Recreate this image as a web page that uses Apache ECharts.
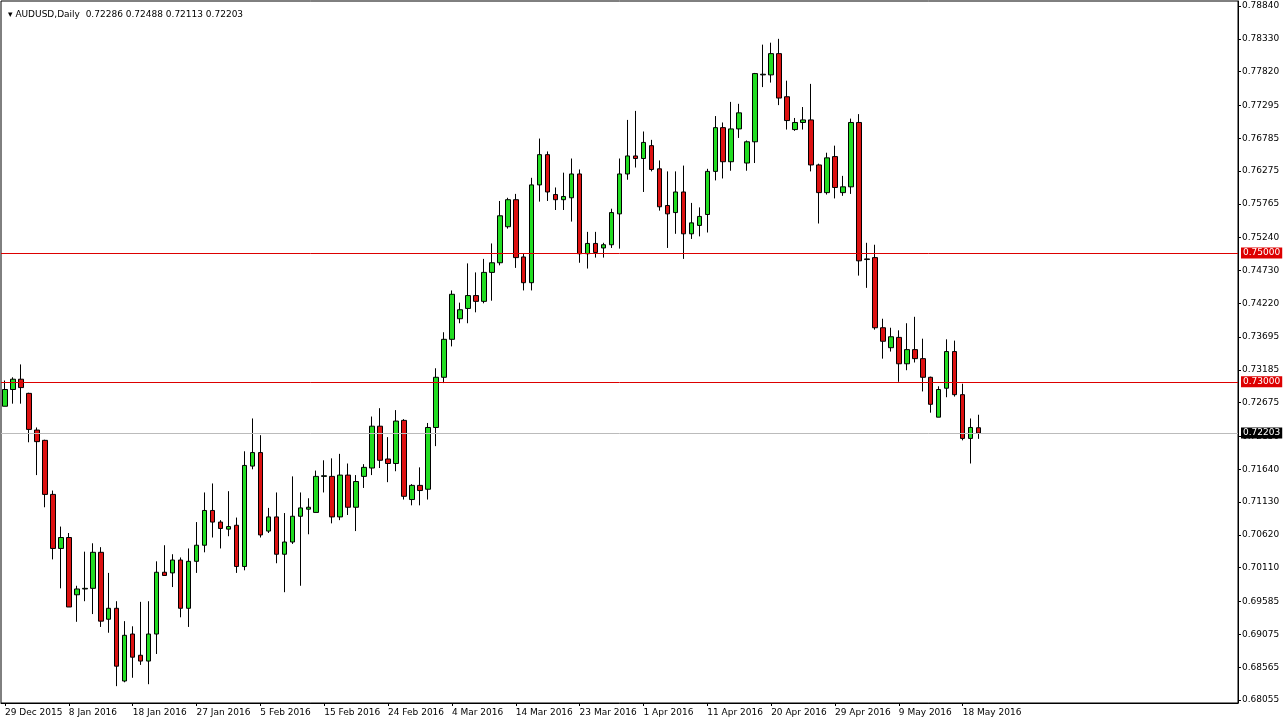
<!DOCTYPE html>
<html><head><meta charset="utf-8">
<script src="https://cdn.jsdelivr.net/npm/echarts@6/dist/echarts.min.js"></script>
<style>html,body{margin:0;padding:0;background:#fff}#c{width:1284px;height:725px}</style>
</head><body><div id="c"></div>
<script>
// [open, close, low, high]
const ohlc = [
[.7262,.7288,.7262,.7302],[.7288,.7304,.7266,.7307],[.7304,.7291,.7266,.7327],[.7282,.7226,.7206,.7283],
[.7225,.7207,.7155,.7229],[.7209,.7125,.7105,.7210],[.7125,.7041,.7024,.7131],[.7041,.7058,.6979,.7075],
[.7058,.6950,.6950,.7065],[.6969,.6978,.6927,.6983],[.6978,.6979,.6959,.7036],[.6979,.7035,.6939,.7049],
[.7035,.6928,.6919,.7043],[.6931,.6948,.6910,.7003],[.6948,.6858,.6827,.6959],[.6835,.6906,.6833,.6928],
[.6908,.6872,.6840,.6920],[.6875,.6866,.6860,.6958],[.6866,.6908,.6830,.6959],[.6908,.7004,.6877,.7021],
[.7004,.6999,.6999,.7046],[.7003,.7023,.6981,.7032],[.7023,.6948,.6934,.7027],[.6948,.7021,.6919,.7041],
[.7021,.7046,.7003,.7082],[.7046,.7100,.7035,.7128],[.7100,.7082,.7058,.7142],[.7082,.7072,.7041,.7085],
[.7071,.7075,.7060,.7130],[.7077,.7013,.7003,.7089],[.7013,.7170,.7007,.7192],[.7169,.7190,.7164,.7243],
[.7190,.7062,.7058,.7217],[.7068,.7090,.7065,.7104],[.7090,.7032,.7018,.7128],[.7032,.7051,.6973,.7096],
[.7051,.7091,.7048,.7153],[.7091,.7104,.6983,.7128],[.7102,.7105,.7063,.7119],[.7097,.7153,.7097,.7162],
[.7153,.7154,.7128,.7178],[.7153,.7090,.7080,.7181],[.7090,.7155,.7085,.7188],[.7155,.7105,.7093,.7173],
[.7105,.7145,.7068,.7155],[.7153,.7167,.7135,.7172],[.7166,.7231,.7155,.7246],[.7231,.7178,.7166,.7259],
[.7180,.7173,.7144,.7214],[.7173,.7239,.7161,.7256],[.7240,.7122,.7117,.7242],[.7117,.7139,.7108,.7141],
[.7139,.7131,.7108,.7167],[.7133,.7229,.7117,.7236],[.7229,.7307,.7200,.7321],[.7307,.7366,.7298,.7377],
[.7366,.7436,.7355,.7442],[.7398,.7412,.7391,.7423],[.7414,.7434,.7391,.7484],[.7434,.7425,.7408,.7470],
[.7425,.7470,.7422,.7491],[.7470,.7485,.7426,.7515],[.7485,.7558,.7481,.7581],[.7541,.7583,.7538,.7586],
[.7583,.7493,.7477,.7592],[.7494,.7454,.7442,.7499],[.7454,.7606,.7442,.7617],[.7606,.7653,.7580,.7678],
[.7653,.7595,.7581,.7658],[.7591,.7583,.7567,.7602],[.7583,.7588,.7567,.7625],[.7586,.7623,.7549,.7647],
[.7623,.7499,.7485,.7630],[.7499,.7515,.7476,.7533],[.7515,.7501,.7493,.7533],[.7508,.7513,.7493,.7516],
[.7513,.7563,.7508,.7569],[.7561,.7623,.7507,.7647],[.7623,.7651,.7614,.7707],[.7651,.7647,.7633,.7721],
[.7647,.7672,.7595,.7689],[.7667,.7630,.7627,.7676],[.7631,.7572,.7566,.7644],[.7574,.7561,.7508,.7627],
[.7563,.7595,.7530,.7627],[.7595,.7530,.7491,.7636],[.7530,.7547,.7522,.7578],[.7543,.7557,.7526,.7571],
[.7560,.7627,.7532,.7631],[.7627,.7695,.7613,.7713],[.7695,.7642,.7616,.7703],[.7642,.7693,.7628,.7735],
[.7693,.7718,.7679,.7732],[.7640,.7673,.7628,.7675],[.7673,.7779,.7640,.7780],[.7777,.7778,.7758,.7824],
[.7777,.7810,.7765,.7827],[.7810,.7741,.7730,.7833],[.7743,.7706,.7692,.7768],[.7692,.7703,.7690,.7710],
[.7703,.7707,.7692,.7727],[.7707,.7637,.7627,.7763],[.7637,.7594,.7546,.7639],[.7594,.7648,.7591,.7656],
[.7650,.7602,.7585,.7667],[.7594,.7603,.7589,.7620],[.7603,.7703,.7592,.7709],[.7703,.7488,.7465,.7716],
[.7490,.7491,.7446,.7516],[.7493,.7384,.7381,.7513],[.7384,.7363,.7336,.7398],[.7353,.7370,.7347,.7384],
[.7369,.7328,.7300,.7380],[.7328,.7350,.7318,.7391],[.7350,.7336,.7330,.7401],[.7336,.7307,.7285,.7367],
[.7307,.7265,.7252,.7308],[.7245,.7288,.7245,.7293],[.7290,.7347,.7276,.7366],[.7347,.7280,.7277,.7364],
[.7280,.7212,.7209,.7297],[.7212,.7229,.7173,.7243],[.72286,.72203,.72113,.72488]
];
const xTickIndex = [0,8,16,24,32,40,48,56,64,72,80,88,96,104,112,120];
const xTickLabels = ['29 Dec 2015','8 Jan 2016','18 Jan 2016','27 Jan 2016','5 Feb 2016','15 Feb 2016','24 Feb 2016','4 Mar 2016','14 Mar 2016','23 Mar 2016','1 Apr 2016','11 Apr 2016','20 Apr 2016','29 Apr 2016','9 May 2016','18 May 2016'];
const yTicks = [0.78840,0.78330,0.77820,0.77295,0.76785,0.76275,0.75765,0.75240,0.74730,0.74220,0.73695,0.73185,0.72675,0.72150,0.71640,0.71130,0.70620,0.70110,0.69585,0.69075,0.68565,0.68055];
const levels = [0.75000, 0.73000];
const lastPrice = 0.72203;
const nSlots = 155;

const cats = [];
for (let i = 0; i < nSlots; i++) cats.push(String(i));
const data = [];
for (let i = 0; i < nSlots; i++) data.push(i < ohlc.length ? ohlc[i] : '-');
const tickMap = {};
xTickIndex.forEach((v, i) => tickMap[v] = xTickLabels[i]);
const font = 'DejaVu Sans';

function levelSeries(val, lineColor, bg) {
  return {
    type: 'line', data: [], silent: true, z: 1,
    markLine: {
      silent: true, symbol: 'none', precision: 5,
      lineStyle: { color: lineColor, width: 1, type: 'solid', opacity: 1 },
      label: { position: 'end', formatter: (p) => Number(p.value).toFixed(5), fontFamily: font, fontSize: 9,
        padding: [1, 2], distance: 3, color: '#fff', backgroundColor: bg },
      data: [{ yAxis: val }]
    }
  };
}

const chart = echarts.init(document.getElementById('c'));
chart.setOption({
  animation: false,
  backgroundColor: '#fff',
  title: { text: '▾ AUDUSD,Daily  0.72286 0.72488 0.72113 0.72203', left: 3, top: 5,
    textStyle: { fontFamily: font, fontSize: 9, fontWeight: 'normal', color: '#000' } },
  grid: { left: 1, right: 46, top: 1, bottom: 22, show: true, borderColor: '#000', borderWidth: 1 },
  xAxis: {
    type: 'category', data: cats, boundaryGap: true,
    axisLine: { lineStyle: { color: '#000' } },
    axisTick: { show: true, length: 3, alignWithLabel: true, lineStyle: { color: '#000' }, interval: (i) => tickMap[i] !== undefined },
    axisLabel: { interval: (i) => tickMap[i] !== undefined, formatter: (v, i) => tickMap[i] || '',
      align: 'left', margin: 5, fontFamily: font, fontSize: 9, color: '#000' },
    splitLine: { show: false }
  },
  yAxis: {
    type: 'value', position: 'right', min: 0.68008, max: 0.78918, scale: true,
    axisLine: { show: true, lineStyle: { color: '#000' } },
    axisTick: { show: true, length: 3, customValues: yTicks, lineStyle: { color: '#000' } },
    axisLabel: { customValues: yTicks, formatter: (v) => v.toFixed(5), fontFamily: font, fontSize: 9, color: '#000', margin: 4 },
    splitLine: { show: false }
  },
  series: [
    levelSeries(levels[0], '#dd0000', '#dd0000'),
    levelSeries(levels[1], '#dd0000', '#dd0000'),
    levelSeries(lastPrice, '#bbbbbb', '#000'),
    {
      type: 'candlestick', data: data, barWidth: 5, z: 3,
      itemStyle: { color: '#22dd22', color0: '#dd1111', borderColor: '#000', borderColor0: '#000', borderWidth: 1 }
    }
  ]
});
</script></body></html>
